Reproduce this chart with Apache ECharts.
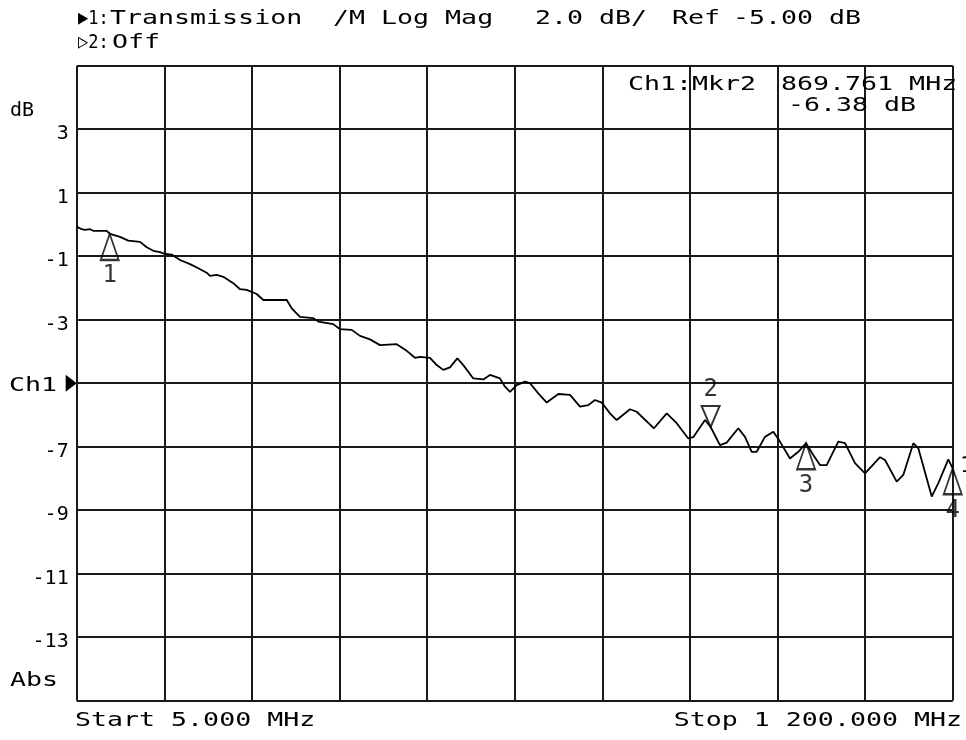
<!DOCTYPE html>
<html>
<head>
<meta charset="utf-8">
<script src="https://cdn.jsdelivr.net/npm/echarts@6/dist/echarts.min.js"></script>
<style>
  html, body { margin: 0; padding: 0; background: #fff; }
  #chart { width: 966px; height: 740px; }
</style>
</head>
<body>
<div id="chart"></div>
<script>
// sweep and scale
const START_MHZ = 5;
const STOP_MHZ = 1200;
const REF_DB = -5;
const TOP_DB = 5;
const BOTTOM_DB = -15;
const DIVISIONS = 10;

// grid row labels, bottom (-15 dB) to top (+5 dB)
const yTickLabels = ['', '-13', '-11', '-9', '-7', '', '-3', '-1', '1', '3', ''];

// trace
const traceFreqMHz = [
  5, 11.8, 16.3, 23.1, 27.6, 45.9, 50.4, 64.1, 75.4, 91.4,
  100.5, 109.5, 118.6, 125.5, 134.6, 146, 159.6, 170.9, 182.3, 186.8,
  196, 205, 218.6, 227.8, 236.9, 250.5, 259.6, 291.5, 298.3, 309.6,
  327.8, 334.6, 355, 364.2, 380.1, 391.5, 405.1, 418.8, 441.5, 455.2,
  466.5, 473.3, 487, 496.1, 505.1, 514.2, 524.2, 532.4, 546, 559.7,
  568.8, 582.4, 589.3, 596.1, 605.2, 616.6, 623.4, 634.7, 646.2, 662,
  678, 691.6, 702.9, 712, 721.2, 732.5, 741.6, 759.8, 768.9, 792.5,
  809.9, 823.5, 839.3, 846.1, 862.1, 869.8, 882.5, 891.7, 907.5, 916.7,
  925.8, 932.6, 943.9, 955.3, 964.4, 978, 989.4, 1000, 1009.8, 1019,
  1028.1, 1043.9, 1053.1, 1066.7, 1080.4, 1100.9, 1107.7, 1123.6, 1132.6, 1146.3,
  1153.1, 1171.4, 1180.4, 1194, 1200
];
const traceDb = [
  -0.07, -0.15, -0.17, -0.15, -0.20, -0.20, -0.30, -0.39, -0.51, -0.55,
  -0.72, -0.83, -0.87, -0.93, -0.95, -1.12, -1.25, -1.38, -1.52, -1.62,
  -1.59, -1.65, -1.85, -2.04, -2.06, -2.19, -2.38, -2.38, -2.64, -2.91,
  -2.95, -3.06, -3.14, -3.30, -3.32, -3.51, -3.62, -3.80, -3.77, -3.98,
  -4.20, -4.17, -4.20, -4.43, -4.58, -4.50, -4.22, -4.43, -4.85, -4.88,
  -4.74, -4.85, -5.11, -5.27, -5.06, -4.95, -5.00, -5.32, -5.61, -5.34,
  -5.37, -5.74, -5.69, -5.53, -5.61, -5.95, -6.16, -5.82, -5.90, -6.42,
  -5.95, -6.26, -6.74, -6.70, -6.16, -6.38, -6.95, -6.87, -6.42, -6.69,
  -7.16, -7.16, -6.69, -6.53, -6.84, -7.37, -7.16, -6.89, -7.26, -7.58,
  -7.58, -6.84, -6.89, -7.52, -7.84, -7.33, -7.42, -8.10, -7.89, -6.89,
  -7.05, -8.57, -8.15, -7.40, -7.68
];

// markers
const markerNames = ['1', '2', '3', '4'];
const markerFreqMHz = [50, 869.761, 1000, 1200];
const markerDb = [-0.30, -6.38, -6.89, -7.68];
const activeMarker = 1;

const FONT = '"DejaVu Sans Mono", "Liberation Mono", monospace';
const SX = 1.33;

const chart = echarts.init(document.getElementById('chart'), null, { renderer: 'canvas' });

const tracePoints = traceFreqMHz.map((f, i) => [f, traceDb[i]]);

const upTri = 'path://M0,0L9,26L-9,26Z';
const downTri = 'path://M-9,0L9,0L0,21Z';

const markerPoints = markerFreqMHz.map((f, i) => {
  const active = i === activeMarker;
  return {
    value: [f, markerDb[i]],
    symbol: active ? downTri : upTri,
    symbolSize: active ? [18, 21] : [18, 26],
    symbolOffset: active ? [0, -10.5] : [0, 13],
    label: { position: active ? 'top' : 'bottom', formatter: markerNames[i] }
  };
});

function txt(s, x, y, opts) {
  opts = opts || {};
  return {
    type: 'text',
    x: x,
    y: y,
    scaleX: opts.sx || SX,
    z: 100,
    style: {
      text: s,
      font: (opts.size || 20) + 'px ' + FONT,
      fill: '#000',
      textAlign: opts.align || 'left',
      textVerticalAlign: 'middle'
    }
  };
}

const gridLine = { color: '#1a1a1a', width: 2 };

const option = {
  backgroundColor: '#fff',
  animation: false,
  grid: { left: 76.7, right: 13.3, top: 65.7, bottom: 39.3, containLabel: false },
  xAxis: [
    { type: 'value', min: START_MHZ, max: STOP_MHZ, show: false },
    {
      type: 'value', min: 0, max: DIVISIONS, interval: 1, position: 'bottom',
      axisLine: { show: false }, axisTick: { show: false }, axisLabel: { show: false },
      splitLine: { show: true, lineStyle: gridLine }
    }
  ],
  yAxis: [
    { type: 'value', min: BOTTOM_DB, max: TOP_DB, show: false },
    {
      type: 'value', min: 0, max: DIVISIONS, interval: 1, position: 'left',
      axisLine: { show: false }, axisTick: { show: false },
      splitLine: { show: true, lineStyle: gridLine },
      axisLabel: {
        show: true, margin: 8, color: '#000', fontFamily: FONT, fontSize: 20,
        verticalAlign: 'top', lineHeight: 10,
        formatter: v => yTickLabels[v] || ''
      }
    }
  ],
  series: [
    {
      type: 'line',
      xAxisIndex: 0,
      yAxisIndex: 0,
      data: tracePoints,
      showSymbol: false,
      smooth: false,
      clip: false,
      lineStyle: { color: '#000', width: 1.8 },
      markPoint: {
        silent: true,
        data: [{
          coord: [START_MHZ, REF_DB],
          symbol: 'triangle',
          symbolSize: [17, 11],
          symbolRotate: -90,
          symbolOffset: [-5.5, 0],
          itemStyle: { color: '#000' },
          label: { show: false }
        }]
      }
    },
    {
      type: 'scatter',
      xAxisIndex: 0,
      yAxisIndex: 0,
      clip: false,
      data: markerPoints,
      itemStyle: { color: 'rgba(0,0,0,0)', borderColor: '#000', borderWidth: 2 },
      label: { show: true, distance: 3, color: '#000', fontFamily: FONT, fontSize: 24 },
      z: 5
    }
  ],
  graphic: [
    txt('\u25B61:', 78, 19, { sx: 0.85 }),
    txt('Transmission', 110, 19),
    txt('/M Log Mag', 333, 19),
    txt('2.0 dB/', 535, 19),
    txt('Ref', 672, 19),
    txt('-5.00 dB', 733, 19),
    txt('\u25B72:', 78, 43, { sx: 0.85 }),
    txt('Off', 112, 43),
    txt('dB', 10, 111, { sx: 1 }),
    txt('Ch1', 9, 386),
    txt('Abs', 10, 681),
    txt('Ch1:Mkr2', 628, 85),
    txt('869.761 MHz', 781, 85),
    txt('-6.38 dB', 788, 106),
    txt('1', 960, 466, { size: 22, sx: 1 }),
    txt('Start 5.000 MHz', 75, 721),
    txt('Stop 1 200.000 MHz', 962, 721, { align: 'right' })
  ]
};

chart.setOption(option);
</script>
</body>
</html>
